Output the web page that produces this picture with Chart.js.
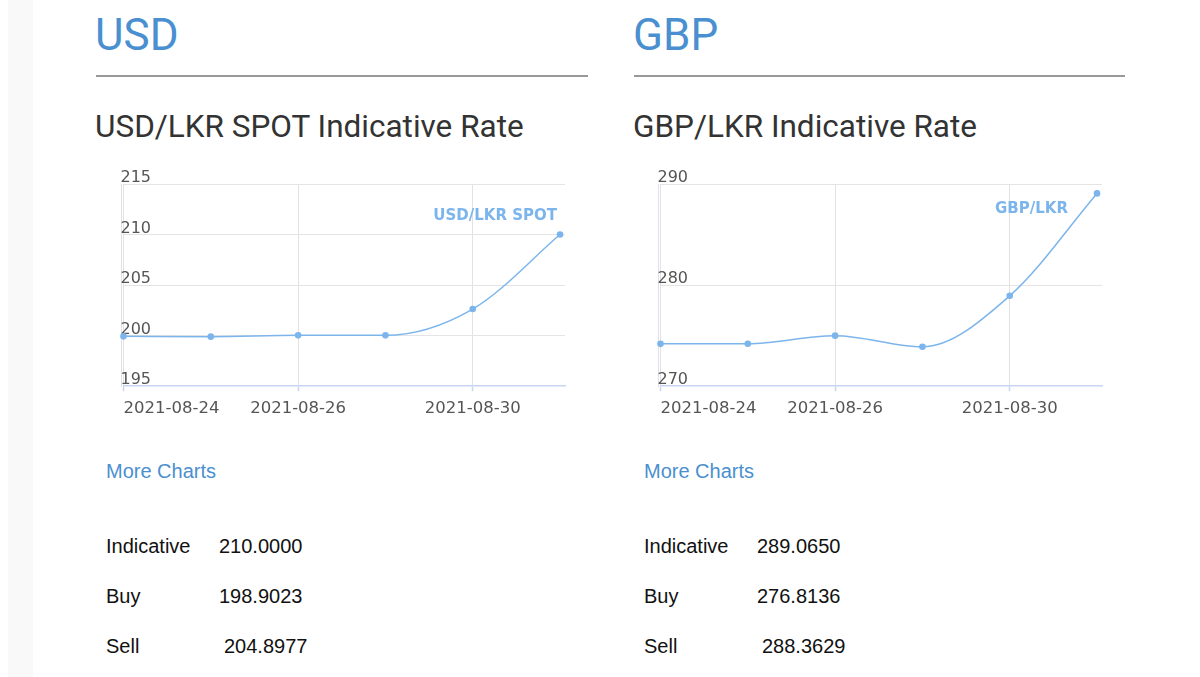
<!DOCTYPE html>
<html>
<head>
<meta charset="utf-8">
<script src="https://cdn.jsdelivr.net/npm/chart.js@4/dist/chart.umd.min.js"></script>
<style>
  html, body { margin: 0; padding: 0; background: #fff; }
  body { width: 1200px; height: 677px; position: relative; overflow: hidden; }
  .strip { position: absolute; left: 8px; top: 0; width: 25px; height: 677px; background: #f9f9f9; }
  .t { position: absolute; white-space: nowrap; line-height: 1; }
  .cur { font-family: Roboto, sans-serif; font-size: 44px; color: #4a8fcf; }
  .hr { position: absolute; height: 2px; background: #999; }
  .sub { font-family: Roboto, sans-serif; font-size: 31.5px; color: #333; }
  .more { font-family: "Liberation Sans", Arial, sans-serif; font-size: 20px; color: #4a8fcf; }
  .tab { font-family: "Liberation Sans", Arial, sans-serif; font-size: 20px; color: #111; }
  canvas { position: absolute; }
</style>
</head>
<body>
<div class="strip"></div>

<div class="t cur" style="left:95px;top:13px">USD</div>
<div class="hr" style="left:96px;top:75px;width:492px"></div>
<div class="t sub" style="left:95px;top:111px">USD/LKR SPOT Indicative Rate</div>
<div style="position:absolute;left:60px;top:150px;width:540px;height:290px"><canvas id="c1"></canvas></div>
<div class="t more" style="left:106px;top:461px">More Charts</div>
<div class="t tab" style="left:106px;top:536px">Indicative</div>
<div class="t tab" style="left:219px;top:536px" id="u1"></div>
<div class="t tab" style="left:106px;top:586px">Buy</div>
<div class="t tab" style="left:219px;top:586px" id="u2"></div>
<div class="t tab" style="left:106px;top:636px">Sell</div>
<div class="t tab" style="left:224px;top:636px" id="u3"></div>

<div class="t cur" style="left:633px;top:13px">GBP</div>
<div class="hr" style="left:634px;top:75px;width:491px"></div>
<div class="t sub" style="left:633px;top:111px">GBP/LKR Indicative Rate</div>
<div style="position:absolute;left:597px;top:150px;width:540px;height:290px"><canvas id="c2"></canvas></div>
<div class="t more" style="left:644px;top:461px">More Charts</div>
<div class="t tab" style="left:644px;top:536px">Indicative</div>
<div class="t tab" style="left:757px;top:536px" id="g1"></div>
<div class="t tab" style="left:644px;top:586px">Buy</div>
<div class="t tab" style="left:757px;top:586px" id="g2"></div>
<div class="t tab" style="left:644px;top:636px">Sell</div>
<div class="t tab" style="left:762px;top:636px" id="g3"></div>

<script>
// ---- data ----
const dates = ['2021-08-24', '2021-08-25', '2021-08-26', '2021-08-27', '2021-08-30', '2021-08-31'];
const shownDateIdx = [0, 2, 4];
const usdValues = [199.93, 199.90, 200.03, 200.03, 202.63, 210.00];
const gbpValues = [274.19, 274.20, 275.00, 273.90, 278.94, 289.07];
const usdTicks = [195, 200, 205, 210, 215];
const gbpTicks = [270, 280, 290];
const usdRates = ['210.0000', '198.9023', '204.8977'];   // Indicative, Buy, Sell
const gbpRates = ['289.0650', '276.8136', '288.3629'];
const usdLabel = 'USD/LKR SPOT';
const gbpLabel = 'GBP/LKR';

['u1','u2','u3'].forEach((id, i) => document.getElementById(id).textContent = usdRates[i]);
['g1','g2','g3'].forEach((id, i) => document.getElementById(id).textContent = gbpRates[i]);

const LINE = '#7cb5ec';
const AXIS = '#c8d5f1';

const seriesLabelPlugin = {
  id: 'seriesLabel',
  afterDatasetsDraw(chart, args, opts) {
    const ca = chart.chartArea;
    const ctx = chart.ctx;
    ctx.save();
    ctx.font = 'bold 15px "DejaVu Sans", sans-serif';
    ctx.fillStyle = LINE;
    ctx.textAlign = 'right';
    ctx.textBaseline = 'middle';
    ctx.fillText(chart.data.datasets[0].label, ca.right - opts.dx, ca.top + opts.dy);
    ctx.restore();
  }
};

function makeChart(id, label, values, yTicks, lblPos) {
  const yMin = yTicks[0], yMax = yTicks[yTicks.length - 1];
  const step = yTicks[1] - yTicks[0];
  const xMax = (values.length - 1) + 0.057;
  const isShown = (c) => c.tick && shownDateIdx.includes(c.tick.value);
  return new Chart(document.getElementById(id), {
    type: 'line',
    data: {
      datasets: [{
        label: label,
        data: values.map((v, i) => ({ x: i, y: v })),
        borderColor: LINE,
        backgroundColor: LINE,
        borderWidth: 1.5,
        pointRadius: 3.3,
        pointBorderWidth: 0,
        pointBackgroundColor: LINE,
        cubicInterpolationMode: 'monotone',
        fill: false,
        clip: false
      }]
    },
    options: {
      responsive: true,
      maintainAspectRatio: false,
      animation: false,
      events: [],
      layout: { padding: { left: 63.5, right: 35, top: 34, bottom: 13 } },
      plugins: {
        legend: { display: false },
        tooltip: { enabled: false },
        title: { display: false },
        seriesLabel: lblPos
      },
      scales: {
        x: {
          type: 'linear',
          min: 0,
          max: xMax,
          border: { display: true, color: AXIS, width: 1.5 },
          afterBuildTicks: (axis) => {
            axis.ticks = shownDateIdx.map(v => ({ value: v })).concat([{ value: xMax }]);
          },
          grid: {
            color: (c) => isShown(c) ? '#e2e2e2' : 'rgba(0,0,0,0)',
            lineWidth: 1,
            drawTicks: true,
            tickLength: 5,
            tickColor: (c) => isShown(c) ? AXIS : 'rgba(0,0,0,0)',
            tickWidth: 1.5
          },
          ticks: {
            align: 'inner',
            padding: 8,
            color: '#555',
            font: { family: '"DejaVu Sans", sans-serif', size: 16.5 },
            maxRotation: 0,
            autoSkip: false,
            callback: (v) => (Number.isInteger(v) ? dates[v] : '')
          }
        },
        y: {
          min: yMin,
          max: yMax,
          border: { display: true, color: '#dde1ea', width: 1 },
          grid: {
            drawTicks: false,
            color: (c) => (c.tick && c.tick.value === yMin) ? 'rgba(0,0,0,0)' : '#e4e4e4',
            lineWidth: 1
          },
          afterBuildTicks: (axis) => { axis.ticks = yTicks.map(v => ({ value: v })); },
          ticks: {
            stepSize: step,
            mirror: true,
            padding: -1,
            labelOffset: -6,
            color: '#555',
            font: { family: '"DejaVu Sans", sans-serif', size: 16 }
          }
        }
      }
    },
    plugins: [seriesLabelPlugin]
  });
}

makeChart('c1', usdLabel, usdValues, usdTicks, { dx: 8, dy: 32.5 });
makeChart('c2', gbpLabel, gbpValues, gbpTicks, { dx: 34, dy: 25.5 });
</script>
</body>
</html>
